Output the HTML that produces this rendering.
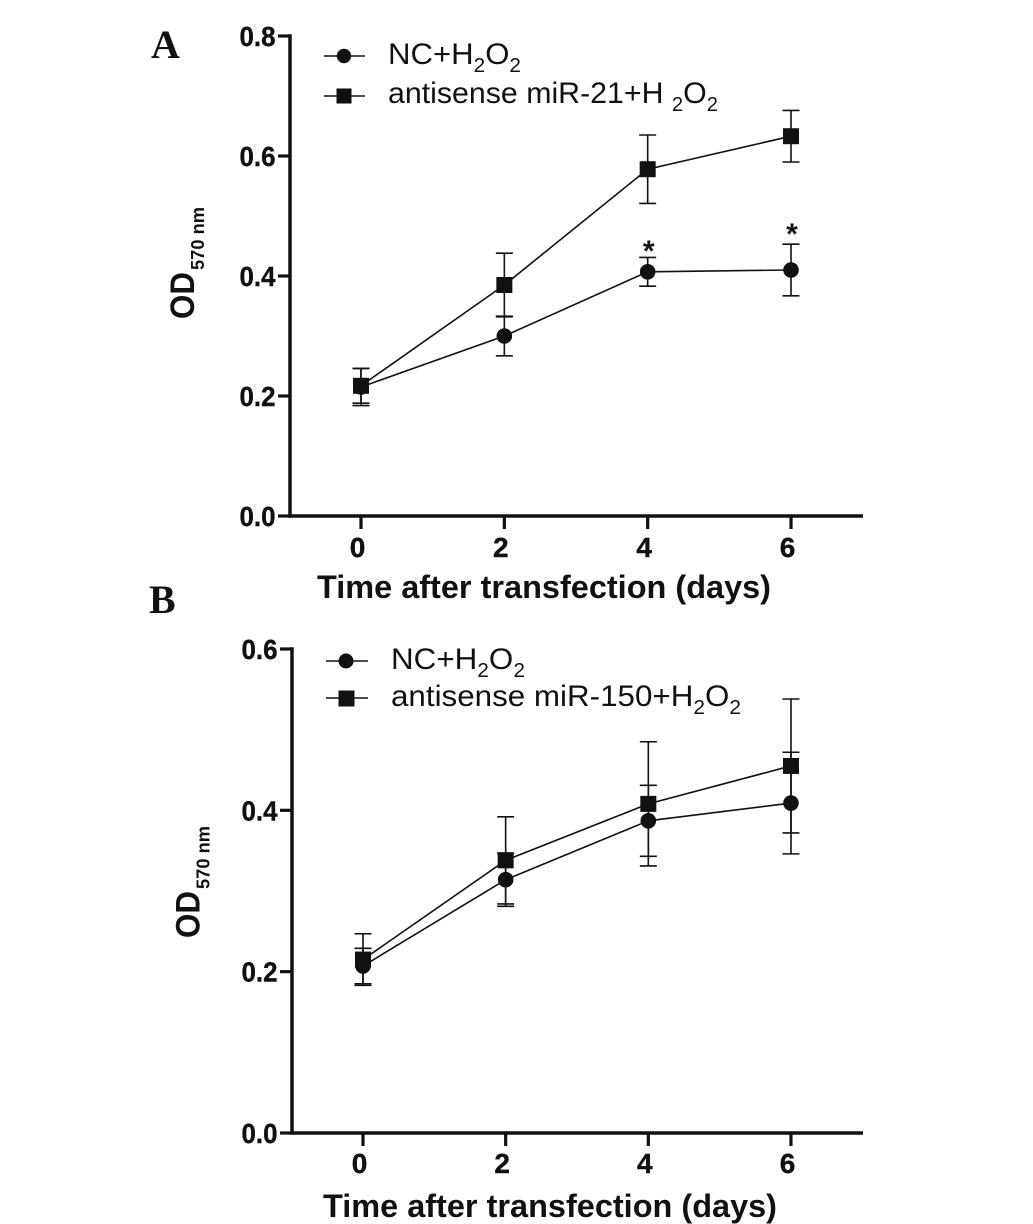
<!DOCTYPE html>
<html>
<head>
<meta charset="utf-8">
<title>OD570 after transfection</title>
<style>
html,body{margin:0;padding:0;background:#fff;}
svg{display:block;}
text{font-family:"Liberation Sans",sans-serif;fill:#111;}
.panel{font-family:"Liberation Serif",serif;font-weight:bold;font-size:40px;}
.legend{font-size:30px;}
.title{font-weight:bold;font-size:32.5px;}
.ytitle{font-weight:bold;font-size:34px;}
.sub{font-weight:bold;font-size:18.5px;}
.star{font-weight:bold;font-size:30px;}
</style>
</head>
<body>
<svg id="chart" xmlns="http://www.w3.org/2000/svg" width="1033" height="1224" viewBox="0 0 1033 1224">
  <rect width="1033" height="1224" fill="#fff"></rect>
  <text class="panel" x="151" y="58">A</text>
  <text class="panel" x="149" y="613">B</text>

  <text class="title" x="317" y="598" textLength="454" lengthAdjust="spacingAndGlyphs">Time after transfection (days)</text>
  <text class="title" x="323" y="1217" textLength="454" lengthAdjust="spacingAndGlyphs">Time after transfection (days)</text>

  <text class="ytitle" transform="translate(194,319) rotate(-90)" textLength="47" lengthAdjust="spacingAndGlyphs">OD</text>
  <text class="sub" transform="translate(204,270) rotate(-90)" textLength="63" lengthAdjust="spacingAndGlyphs">570 nm</text>
  <text class="ytitle" transform="translate(199.5,938) rotate(-90)" textLength="47" lengthAdjust="spacingAndGlyphs">OD</text>
  <text class="sub" transform="translate(209.5,889) rotate(-90)" textLength="63" lengthAdjust="spacingAndGlyphs">570 nm</text>

  <g>
    <line x1="324" x2="365" y1="56" y2="56" stroke="#111" stroke-width="1.6"></line>
    <circle cx="344" cy="56" r="7.2" fill="#111"></circle>
    <text class="legend" x="388" y="64" textLength="133" lengthAdjust="spacingAndGlyphs">NC+H<tspan font-size="20" dy="8">2</tspan><tspan dy="-8">O</tspan><tspan font-size="20" dy="8">2</tspan></text>
    <line x1="324" x2="365" y1="96" y2="96" stroke="#111" stroke-width="1.6"></line>
    <rect x="336.5" y="88.5" width="15" height="15" fill="#111"></rect>
    <text class="legend" x="388" y="103" textLength="330" lengthAdjust="spacingAndGlyphs">antisense miR-21+H <tspan font-size="20" dy="8">2</tspan><tspan dy="-8">O</tspan><tspan font-size="20" dy="8">2</tspan></text>
  </g>

  <g>
    <line x1="326" x2="368" y1="661" y2="661" stroke="#111" stroke-width="1.6"></line>
    <circle cx="346" cy="661" r="7.5" fill="#111"></circle>
    <text class="legend" x="391" y="669" textLength="134" lengthAdjust="spacingAndGlyphs">NC+H<tspan font-size="20" dy="8">2</tspan><tspan dy="-8">O</tspan><tspan font-size="20" dy="8">2</tspan></text>
    <line x1="326" x2="368" y1="698" y2="698" stroke="#111" stroke-width="1.6"></line>
    <rect x="338.5" y="690.5" width="16" height="16" fill="#111"></rect>
    <text class="legend" x="391" y="706" textLength="350" lengthAdjust="spacingAndGlyphs">antisense miR-150+H<tspan font-size="20" dy="8">2</tspan><tspan dy="-8">O</tspan><tspan font-size="20" dy="8">2</tspan></text>
  </g>
</svg>
<script>
// Shared categories
var days = [0, 2, 4, 6];
var xTickLabels = ["0", "2", "4", "6"];

// Panel A data
var panelAYTicks = [0.0, 0.2, 0.4, 0.6, 0.8];
var panelANcMeans = [0.215, 0.300, 0.407, 0.410];
var panelANcErrors = [0.031, 0.033, 0.024, 0.043];
var panelAAntisenseMeans = [0.217, 0.385, 0.578, 0.633];
var panelAAntisenseErrors = [0.029, 0.053, 0.057, 0.043];
var panelAStars = [0.445, 0.473];
var panelAStarDays = [4, 6];

// Panel B data
var panelBYTicks = [0.0, 0.2, 0.4, 0.6];
var panelBNcMeans = [0.207, 0.314, 0.387, 0.409];
var panelBNcErrors = [0.022, 0.033, 0.044, 0.063];
var panelBAntisenseMeans = [0.215, 0.338, 0.408, 0.455];
var panelBAntisenseErrors = [0.032, 0.054, 0.077, 0.083];

var svg = document.getElementById('chart');
var NS = 'http://www.w3.org/2000/svg';
var INK = '#111';

function mk(tag, attrs, parent) {
  var el = document.createElementNS(NS, tag);
  for (var k in attrs) { el.setAttribute(k, attrs[k]); }
  parent.appendChild(el);
  return el;
}

function drawSeries(g, key, shape, means, errors, xs, ys) {
  var pts = [];
  for (var i = 0; i < days.length; i++) {
    pts.push(xs(days[i]) + ',' + ys(means[i]));
  }
  var line = mk('polyline', {points: pts.join(' '), fill: 'none', stroke: INK, 'stroke-width': 1.6}, g);
  
  
  for (var j = 0; j < days.length; j++) {
    var cx = xs(days[j]);
    var top = ys(means[j] + errors[j]);
    var bot = ys(means[j] - errors[j]);
    var d = 'M' + cx + ' ' + top + 'V' + bot +
            'M' + (cx - 8.5) + ' ' + top + 'H' + (cx + 8.5) +
            'M' + (cx - 8.5) + ' ' + bot + 'H' + (cx + 8.5);
    var bar = mk('path', {d: d, fill: 'none', stroke: INK, 'stroke-width': 1.6}, g);
    
    
    var cy = ys(means[j]);
    var marker;
    if (shape === 'circle') {
      marker = mk('circle', {cx: cx, cy: cy, r: 7.8, fill: INK}, g);
    } else {
      marker = mk('rect', {x: cx - 8, y: cy - 8, width: 16, height: 16, fill: INK}, g);
    }
    
    
  }
}

function drawAxes(g, name, yTicks, xs, ys, axisX, axisRight, yLabelX, xLabelY) {
  var base = ys(0);
  var top = ys(yTicks[yTicks.length - 1]);
  var yAxis = mk('line', {x1: axisX, x2: axisX, y1: top - 1.75, y2: base + 1.75, stroke: INK, 'stroke-width': 3.5}, g);
  
  
  var xAxis = mk('line', {x1: axisX, x2: axisRight, y1: base, y2: base, stroke: INK, 'stroke-width': 3.5}, g);
  
  
  yTicks.forEach(function (v) {
    var y = ys(v);
    var tick = mk('line', {x1: axisX - 12, x2: axisX, y1: y, y2: y, stroke: INK, 'stroke-width': 3.2}, g);
    
    
    var label = mk('text', {x: yLabelX, y: y + 10, 'text-anchor': 'end', 'font-weight': 'bold', 'font-size': 28, stroke: INK, 'stroke-width': 0.4, textLength: 36, lengthAdjust: 'spacingAndGlyphs'}, g);
    label.textContent = v.toFixed(1);
    
    
  });
  days.forEach(function (d, i) {
    var x = xs(d);
    var tick = mk('line', {x1: x, x2: x, y1: base, y2: base + 13, stroke: INK, 'stroke-width': 3.2}, g);
    
    
    var label = mk('text', {x: x - 3.5, y: xLabelY, 'text-anchor': 'middle', 'font-weight': 'bold', 'font-size': 28, stroke: INK, 'stroke-width': 0.4}, g);
    label.textContent = xTickLabels[i];
    
    
  });
}

// Panel A
var xA = function (d) { return 361 + d * 71.67; };
var yA = function (v) { return 516 - v * 600; };
var gA = mk('g', {}, svg);


drawAxes(gA, 'panel-a', panelAYTicks, xA, yA, 290, 863, 275.5, 557);
drawSeries(gA, 'panel-a-nc', 'circle', panelANcMeans, panelANcErrors, xA, yA);
drawSeries(gA, 'panel-a-antisense', 'square', panelAAntisenseMeans, panelAAntisenseErrors, xA, yA);
panelAStarDays.forEach(function (d, i) {
  var star = mk('text', {'class': 'star', x: xA(d) + 1, y: yA(panelAStars[i]) + 12, 'text-anchor': 'middle'}, gA);
  star.textContent = '*';
  
  
});

// Panel B
var xB = function (d) { return 363 + d * 71.33; };
var yB = function (v) { return 1133 - v * 806.7; };
var gB = mk('g', {}, svg);


drawAxes(gB, 'panel-b', panelBYTicks, xB, yB, 292, 863, 277.5, 1173);
drawSeries(gB, 'panel-b-nc', 'circle', panelBNcMeans, panelBNcErrors, xB, yB);
drawSeries(gB, 'panel-b-antisense', 'square', panelBAntisenseMeans, panelBAntisenseErrors, xB, yB);
</script>
</body>
</html>
